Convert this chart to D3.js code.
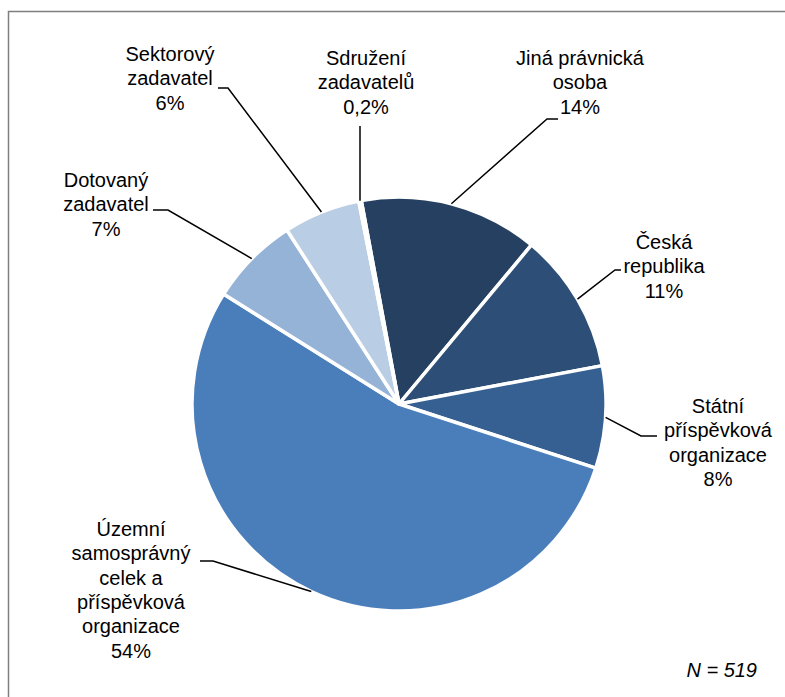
<!DOCTYPE html>
<html>
<head>
<meta charset="utf-8">
<script src="https://cdn.jsdelivr.net/npm/d3@7"></script>
<style>
  body { margin: 0; background: #fff; }
  text { font-family: "Liberation Sans", Arial, sans-serif; fill: #000; }
</style>
</head>
<body>
<div id="vis"></div>
<script>
// slice data, clockwise from the top
var categories = [
  "Jiná právnická osoba",
  "Česká republika",
  "Státní příspěvková organizace",
  "Územní samosprávný celek a příspěvková organizace",
  "Dotovaný zadavatel",
  "Sektorový zadavatel",
  "Sdružení zadavatelů"
];
var shares = [14, 11, 8, 54, 7, 6, 0.2];
var shareLabels = ["14%", "11%", "8%", "54%", "7%", "6%", "0,2%"];
var labelLines = [
  ["Jiná právnická", "osoba"],
  ["Česká", "republika"],
  ["Státní", "příspěvková", "organizace"],
  ["Územní", "samosprávný", "celek a", "příspěvková", "organizace"],
  ["Dotovaný", "zadavatel"],
  ["Sektorový", "zadavatel"],
  ["Sdružení", "zadavatelů"]
];
var colors = ["#254061", "#2d4e76", "#376092", "#4a7ebb", "#95b3d7", "#b9cde5", "#dce6f2"];
var note = "N = 519";

var width = 785;
var height = 697;
var cx = 399, cy = 404, radius = 207;
var lineH = 24.3;

// label placement: text centre x, first baseline y, leader start and elbow
var layout = [
  { x: 580, y: 65,  from: [558, 119], elbow: [547, 119] },
  { x: 664, y: 249, from: [621, 270], elbow: [615, 270] },
  { x: 718, y: 413, from: [657, 436], elbow: [641, 436] },
  { x: 131, y: 536, from: [200, 561], elbow: [213, 561] },
  { x: 106, y: 187, from: [153, 210], elbow: [168, 210] },
  { x: 170, y: 61,  from: [218, 88],  elbow: [228, 88] },
  { x: 366, y: 65,  from: [360, 126], elbow: null }
];

var svg = d3.select('#vis').append('svg')
  .attr('width', width)
  .attr('height', height);

// chart frame
svg.append('rect')
  .attr('x', 8.5)
  .attr('y', 11.5)
  .attr('width', 800)
  .attr('height', 700)
  .style('fill', 'none')
  .style('stroke', '#7f7f7f')
  .style('stroke-width', 1.5);

var start = -10.5 * Math.PI / 180;
var pie = d3.pie()
  .sort(null)
  .startAngle(start)
  .endAngle(start + 2 * Math.PI);

var arcs = pie(shares);

var arc = d3.arc().innerRadius(0).outerRadius(radius);
var edge = d3.arc().innerRadius(radius).outerRadius(radius);

var g = svg.append('g')
  .attr('transform', 'translate(' + cx + ',' + cy + ')');

g.selectAll('path.slice')
  .data(arcs)
  .enter().append('path')
  .attr('class', 'slice')
  .attr('d', arc)
  .style('fill', function (d, i) { return colors[i]; })
  .style('stroke', '#fff')
  .style('stroke-width', 3.5)
  .style('stroke-linejoin', 'round');

// leader lines
svg.append('g')
  .selectAll('polyline')
  .data(arcs)
  .enter().append('polyline')
  .attr('points', function (d, i) {
    var L = layout[i];
    var c = edge.centroid(d);
    var pts = [L.from];
    if (L.elbow) pts.push(L.elbow);
    pts.push([cx + c[0], cy + c[1]]);
    return pts.map(function (p) { return p.join(','); }).join(' ');
  })
  .style('fill', 'none')
  .style('stroke', '#000')
  .style('stroke-width', 1.5);

// labels
var labels = svg.append('g')
  .selectAll('text')
  .data(arcs)
  .enter().append('text')
  .attr('text-anchor', 'middle')
  .style('font-size', '20px');

labels.each(function (d, i) {
  var t = d3.select(this);
  var lines = labelLines[i].concat([shareLabels[i]]);
  lines.forEach(function (s, k) {
    t.append('tspan')
      .attr('x', layout[i].x)
      .attr('y', layout[i].y + k * lineH)
      .text(s);
  });
});

svg.append('text')
  .attr('x', 757)
  .attr('y', 677)
  .attr('text-anchor', 'end')
  .style('font-size', '20px')
  .style('font-style', 'italic')
  .text(note);
</script>
</body>
</html>
